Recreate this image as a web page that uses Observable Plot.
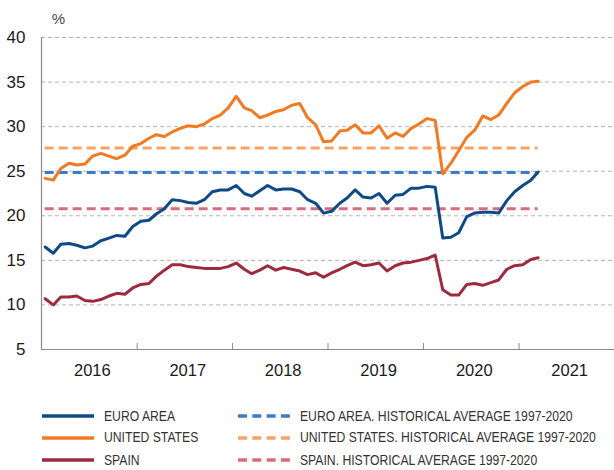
<!DOCTYPE html>
<html>
<head>
<meta charset="utf-8">
<script src="https://cdn.jsdelivr.net/npm/d3@7"></script>
<script src="https://cdn.jsdelivr.net/npm/@observablehq/plot@0.6"></script>
<style>
  html, body { margin: 0; padding: 0; background: #fff; }
  #wrap { position: relative; width: 614px; height: 470px; overflow: hidden; font-family: "Liberation Sans", Arial, Helvetica, sans-serif; }
  .leg { position: absolute; font-family: "Liberation Sans", Arial, sans-serif; font-size: 14.5px; color: #333; line-height: 1; white-space: nowrap; transform: scaleX(0.84); transform-origin: 0 50%; }
  .sw { position: absolute; }
</style>
</head>
<body>
<div id="wrap"></div>
<script>
// ---- data (monthly, Jan 2016 - Mar 2021) ----
const seriesNames = ["EURO AREA", "UNITED STATES", "SPAIN"];
const averageNames = ["EURO AREA. HISTORICAL AVERAGE 1997-2020", "UNITED STATES. HISTORICAL AVERAGE 1997-2020", "SPAIN. HISTORICAL AVERAGE 1997-2020"];
const euroArea = [16.5, 15.8, 16.8, 16.9, 16.7, 16.4, 16.6, 17.2, 17.5, 17.8, 17.7, 18.8, 19.4, 19.5, 20.2, 20.8, 21.8, 21.7, 21.5, 21.4, 21.8, 22.7, 22.9, 22.9, 23.4, 22.5, 22.2, 22.8, 23.4, 22.9, 23.0, 23.0, 22.7, 21.8, 21.4, 20.3, 20.5, 21.4, 22.0, 22.9, 22.1, 22.0, 22.5, 21.4, 22.3, 22.4, 23.1, 23.1, 23.3, 23.2, 17.5, 17.6, 18.1, 19.9, 20.3, 20.4, 20.4, 20.3, 21.7, 22.7, 23.4, 24.0, 24.9];
const unitedStates = [24.2, 24.0, 25.3, 25.9, 25.7, 25.8, 26.7, 27.0, 26.7, 26.4, 26.8, 27.8, 28.1, 28.7, 29.1, 28.9, 29.4, 29.8, 30.1, 30.0, 30.3, 30.9, 31.3, 32.1, 33.4, 32.1, 31.8, 31.0, 31.3, 31.7, 31.9, 32.4, 32.6, 31.0, 30.2, 28.3, 28.4, 29.5, 29.6, 30.2, 29.3, 29.3, 30.1, 28.7, 29.3, 28.9, 29.8, 30.3, 30.9, 30.7, 24.7, 25.9, 27.3, 28.8, 29.6, 31.2, 30.8, 31.3, 32.6, 33.8, 34.5, 35.0, 35.1];
const spain = [10.7, 10.0, 10.9, 10.9, 11.0, 10.5, 10.4, 10.6, 11.0, 11.3, 11.2, 11.9, 12.3, 12.4, 13.2, 13.9, 14.5, 14.5, 14.3, 14.2, 14.1, 14.1, 14.1, 14.3, 14.7, 14.0, 13.5, 13.9, 14.4, 13.9, 14.2, 14.0, 13.8, 13.4, 13.6, 13.1, 13.6, 14.0, 14.4, 14.8, 14.4, 14.5, 14.7, 13.8, 14.4, 14.7, 14.8, 15.0, 15.2, 15.6, 11.7, 11.1, 11.1, 12.3, 12.4, 12.2, 12.5, 12.8, 14.0, 14.4, 14.5, 15.1, 15.3];
const averages = [24.85, 27.6, 20.8];
const yTicks = [5, 10, 15, 20, 25, 30, 35, 40];
const yearLabels = ["2016", "2017", "2018", "2019", "2020", "2021"];

const colors = ["#0e4a86", "#f37a20", "#9e2a40"];
const avgColors = ["#3b7cc9", "#fba262", "#d66d7d"];

// monthly observations, plotted mid-month
const dates = euroArea.map((_, i) => new Date(2016, i, 15));

const seriesData = [euroArea, unitedStates, spain];
const rows = [];
seriesData.forEach((vals, s) => vals.forEach((v, i) => rows.push({series: seriesNames[s], date: dates[i], value: v})));
const avgRows = averages.map((v, i) => ({name: averageNames[i], value: v, x1: dates[0], x2: dates[dates.length - 1], color: avgColors[i]}));

const x0 = new Date(2016, 0, 1);
const x1 = new Date(2022, 0, 1);
const yearMids = yearLabels.map(y => new Date(+y, 6, 2));
const yearTicks = yearLabels.map(y => new Date(+y + 1, 0, 1));

const chart = Plot.plot({
  width: 614,
  height: 395,
  marginLeft: 41,
  marginRight: 0,
  marginTop: 37,
  marginBottom: 46,
  style: {fontFamily: '"Liberation Sans", Arial, Helvetica, sans-serif', background: "#fff", overflow: "visible"},
  x: {type: "time", domain: [x0, x1], axis: null},
  y: {domain: [5, 40], axis: null},
  color: {domain: seriesNames, range: colors},
  marks: [
    Plot.ruleY(yTicks, {stroke: "#b3b3b3", strokeWidth: 1, strokeDasharray: "4,3"}),
    Plot.ruleY([5], {stroke: "#8a8a8a", strokeWidth: 1.2}),
    Plot.ruleX([x0], {y1: 5, y2: 40, stroke: "#8a8a8a", strokeWidth: 1.2}),
    Plot.ruleX(yearTicks, {y1: 5, y2: 5.68, stroke: "#8a8a8a", strokeWidth: 1}),
    Plot.ruleY(avgRows, {y: "value", x1: "x1", x2: "x2", stroke: "color", strokeWidth: 3, strokeDasharray: "9,5"}),
    Plot.line(rows, {x: "date", y: "value", z: "series", stroke: "series", strokeWidth: 3, strokeLinejoin: "round"}),
    Plot.text(yTicks, {x: x0, y: d => d, text: d => String(d), dx: -16, textAnchor: "end", fontSize: 17, fill: "#1a1a1a"}),
    Plot.text(yearLabels, {x: (d, i) => yearMids[i], y: 5, text: d => d, dx: 3, dy: 21, fontSize: 16.5, fill: "#1a1a1a"}),
    Plot.text(["%"], {x: x0, y: 40, text: d => d, dx: 17, dy: -18, fontSize: 15, fill: "#444"})
  ]
});

const wrap = document.getElementById("wrap");
wrap.appendChild(chart);

// legend
function addSwatch(xl, yc, color, dashed) {
  const ns = "http://www.w3.org/2000/svg";
  const s = document.createElementNS(ns, "svg");
  s.setAttribute("width", 54); s.setAttribute("height", 8);
  s.setAttribute("class", "sw");
  s.style.left = xl + "px"; s.style.top = (yc - 4) + "px";
  const l = document.createElementNS(ns, "line");
  l.setAttribute("x1", 0); l.setAttribute("x2", 52); l.setAttribute("y1", 4); l.setAttribute("y2", 4);
  l.setAttribute("stroke", color); l.setAttribute("stroke-width", 3.5);
  if (dashed) l.setAttribute("stroke-dasharray", "9,5.3");
  s.appendChild(l);
  wrap.appendChild(s);
}
function addLabel(xl, yc, text) {
  const d = document.createElement("div");
  d.className = "leg";
  d.textContent = text;
  d.style.left = xl + "px";
  d.style.top = (yc - 7.5) + "px";
  wrap.appendChild(d);
}
const rowY = [416, 437.5, 460];
seriesNames.forEach((n, i) => { addSwatch(42, rowY[i], colors[i], false); addLabel(103.5, rowY[i], n); });
averageNames.forEach((n, i) => { addSwatch(238, rowY[i], avgColors[i], true); addLabel(300, rowY[i], n); });
</script>
</body>
</html>
